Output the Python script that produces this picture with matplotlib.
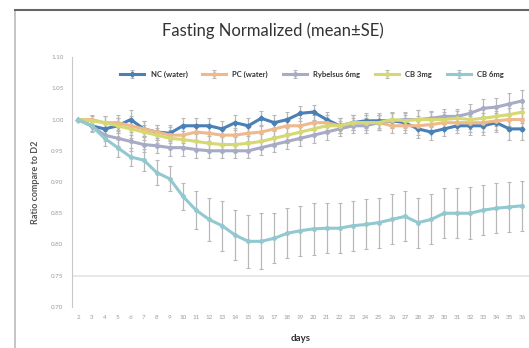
import numpy as np
import matplotlib.pyplot as plt
from matplotlib.lines import Line2D

# days on the x axis
days = list(range(2, 37))

nc_water = [1.000, 0.990, 0.985, 0.990, 1.000, 0.985, 0.980, 0.978, 0.990, 0.990,
            0.990, 0.985, 0.995, 0.990, 1.002, 0.995, 1.000, 1.010, 1.012, 1.000,
            0.990, 0.995, 0.998, 0.998, 0.998, 0.995, 0.985, 0.980, 0.985, 0.990,
            0.990, 0.990, 0.995, 0.985, 0.985]
pc_water = [1.000, 1.000, 0.995, 0.995, 0.990, 0.985, 0.980, 0.975, 0.975, 0.980,
            0.978, 0.975, 0.975, 0.978, 0.980, 0.985, 0.990, 0.990, 0.995, 0.995,
            0.990, 0.995, 0.995, 0.995, 0.990, 0.990, 0.990, 0.992, 0.995, 0.995,
            0.995, 0.995, 0.998, 1.000, 1.000]
rybelsus_6mg = [1.000, 0.990, 0.975, 0.970, 0.965, 0.960, 0.958, 0.955, 0.955, 0.952,
                0.950, 0.950, 0.950, 0.950, 0.955, 0.960, 0.965, 0.970, 0.975, 0.980,
                0.985, 0.990, 0.990, 0.995, 0.998, 1.000, 1.000, 1.002, 1.005, 1.005,
                1.010, 1.018, 1.020, 1.025, 1.030]
cb_3mg = [1.000, 0.998, 0.995, 0.990, 0.985, 0.980, 0.975, 0.970, 0.968, 0.965,
          0.962, 0.960, 0.960, 0.962, 0.965, 0.970, 0.975, 0.980, 0.985, 0.990,
          0.990, 0.995, 0.995, 0.995, 1.000, 0.998, 1.000, 1.000, 1.000, 1.002,
          1.000, 1.002, 1.005, 1.008, 1.012]
cb_6mg = [1.000, 0.990, 0.970, 0.955, 0.940, 0.935, 0.915, 0.905, 0.877, 0.855,
          0.840, 0.830, 0.815, 0.805, 0.805, 0.810, 0.818, 0.822, 0.825, 0.826,
          0.826, 0.830, 0.832, 0.835, 0.840, 0.845, 0.835, 0.840, 0.850, 0.850,
          0.850, 0.855, 0.858, 0.860, 0.862]

# standard errors
se_small = [0.0, 0.008, 0.010, 0.012, 0.015, 0.012, 0.012, 0.013, 0.013, 0.013,
            0.012, 0.012, 0.012, 0.012, 0.012, 0.012, 0.012, 0.012, 0.012, 0.012,
            0.012, 0.012, 0.012, 0.012, 0.012, 0.012, 0.015, 0.012, 0.012, 0.012,
            0.015, 0.015, 0.015, 0.018, 0.018]
se_cb6 = [0.0, 0.010, 0.012, 0.015, 0.015, 0.018, 0.020, 0.020, 0.022, 0.030,
          0.035, 0.040, 0.040, 0.042, 0.045, 0.040, 0.040, 0.040, 0.042, 0.040,
          0.040, 0.040, 0.040, 0.040, 0.040, 0.040, 0.040, 0.040, 0.040, 0.040,
          0.042, 0.040, 0.040, 0.040, 0.040]

labels = ['NC (water)', 'PC (water)', 'Rybelsus 6mg', 'CB 3mg', 'CB 6mg']
yticks = [0.70, 0.75, 0.80, 0.85, 0.90, 0.95, 1.00, 1.05, 1.10]

plt.rcParams['font.family'] = ['Lato', 'DejaVu Sans']

fig = plt.figure(figsize=(5.29, 3.48), dpi=100)
ax = fig.add_axes([0.136, 0.118, 0.864, 0.718])

series = [nc_water, pc_water, rybelsus_6mg, cb_3mg, cb_6mg]
errs = [se_small, se_small, se_small, se_small, se_cb6]
colors = ['#4a80b4', '#efb98c', '#a8abc6', '#d6d872', '#92c8cf']
markers = ['D', 'o', 'o', 'o', 'o']

for y, e, c, m, lab in zip(series, errs, colors, markers, labels):
    ax.errorbar(days, y, yerr=e, color=c, lw=2.2, marker=m, ms=2.5,
                ecolor='#b8b8b8', elinewidth=0.9, capsize=1.5, capthick=0.8,
                label=lab, zorder=3)

ax.axhline(0.75, color='#e4e4e4', lw=1.2, zorder=1)

ax.set_xlim(1.5, 36.5)
ax.set_ylim(0.70, 1.10)
ax.set_xticks(days)
ax.set_xticklabels([str(d) for d in days], fontsize=4.5, color='#9a9a9a')
ax.set_yticks(yticks)
ax.set_yticklabels(['%.2f' % v for v in yticks], fontsize=4.5, color='#9a9a9a')
ax.tick_params(length=0, pad=6)
for s in ['top', 'right', 'bottom']:
    ax.spines[s].set_visible(False)
ax.spines['left'].set_color('#c8c8c8')

ax.set_ylabel('Ratio compare to D2', fontsize=6.5, fontweight='bold', color='#555555', labelpad=8)
ax.set_xlabel('days', fontsize=7, fontweight='bold', color='#333333', labelpad=10)

fig.text(0.515, 0.912, 'Fasting Normalized (mean\u00b1SE)', ha='center', va='center',
         fontsize=12, color='#333333')

ax.legend(loc='center', bbox_to_anchor=(0.525, 0.93), ncol=5, frameon=False,
          prop={'size': 5.5, 'weight': 'bold'}, handlelength=3.2, columnspacing=1.9,
          labelcolor='#333333')

# scanned page border
fig.add_artist(Line2D([0.028, 0.028], [0.0, 0.97], color='#bbbbbb', lw=1.2))
fig.add_artist(Line2D([0.028, 1.0], [0.97, 0.97], color='#666666', lw=1.5))

fig.savefig('out.png', dpi=100)
